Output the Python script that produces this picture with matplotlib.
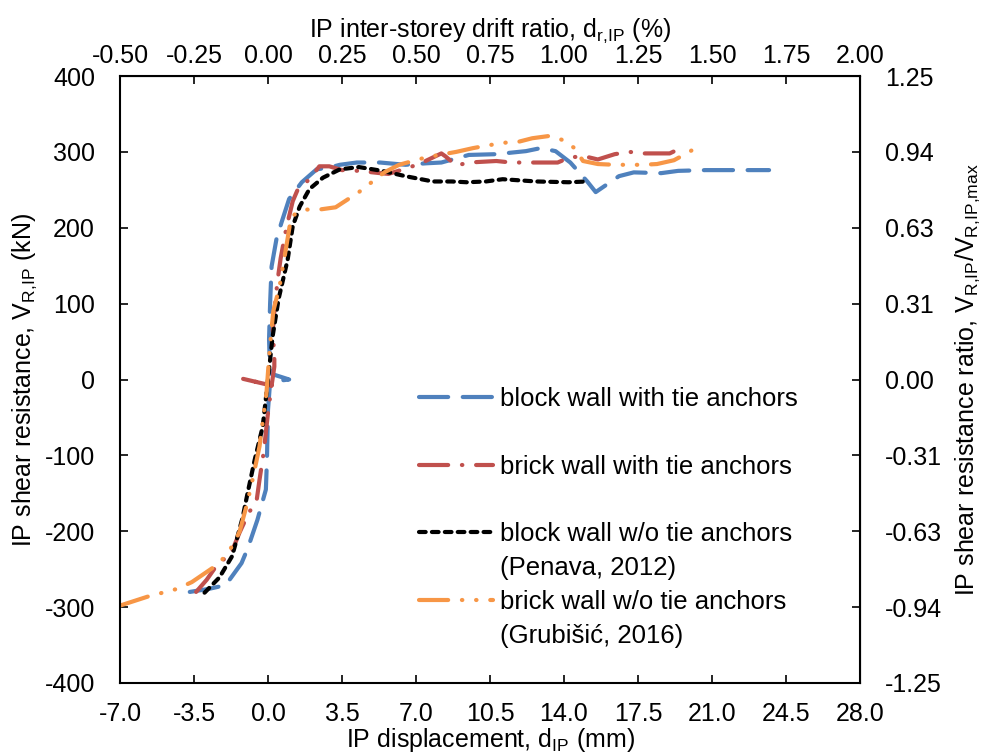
import matplotlib
matplotlib.use('Agg')
import matplotlib.pyplot as plt
from matplotlib.lines import Line2D
import numpy as np

plt.rcParams['font.family'] = ['Liberation Sans', 'DejaVu Sans']
plt.rcParams['mathtext.default'] = 'regular'
plt.rcParams['axes.unicode_minus'] = False
plt.rcParams['font.size'] = 18

# block wall with tie anchors (mm, kN)
blue_x = [-3.7, -2.8, -2.0, -1.25, -0.95, -0.5, -0.3, -0.1, -0.05, 0.0, 0.1, 1.0, 0.1,
          0.05, 0.1, 0.17, 0.4, 0.64, 1.0, 1.6, 2.3, 3.0, 3.4, 4.2, 5.3, 6.5, 7.5, 8.2,
          9.5, 10.8, 12.2, 12.9, 13.6, 14.3, 15.1, 15.5, 16.6, 17.3, 18.6, 19.4, 20.7,
          22.0, 23.7]
blue_y = [-280, -276, -271, -242, -222, -185, -165, -145, -106, -40, -3, 0, 8,
          53, 100, 149, 185, 207, 238, 260, 277, 280, 283, 286, 286, 283, 285, 286,
          296, 297, 301, 305, 301, 286, 261, 247, 268, 273, 272, 275, 276,
          276, 276]

# brick wall with tie anchors
red_x = [-3.4, -2.9, -2.3, -1.8, -1.35, -0.9, -0.55, -0.4, -0.2, 0.0, 0.17, -1.2, 0.17,
         0.3, 0.3, 0.2, 0.3, 0.45, 0.6, 0.87, 1.17, 1.4, 1.96, 2.43, 2.9, 3.5, 4.3,
         5.3, 5.7, 6.4, 7.15, 8.2, 8.4, 8.9, 9.5, 10.8, 11.5, 12.2, 13.7, 14.3, 15.0,
         15.6, 16.4, 17.1, 17.8, 19.0, 19.3]
red_y = [-280, -264, -240, -233, -202, -175, -162, -132, -95, -44, -8, 1, -8,
         17, 40, 55, 90, 130, 160, 200, 235, 250, 264, 281, 281, 276, 275,
         272, 271, 277, 284, 298, 294, 282, 286, 288, 286, 286, 286, 293, 294,
         290, 297, 300, 298, 298, 302]

# block wall w/o tie anchors (Penava, 2012)
black_x = [-3.0, -2.3, -1.7, -1.5, -1.2, -0.96, -0.63, -0.25, 0.0, 0.22, 0.5, 0.93,
           1.17, 1.5, 1.96, 2.6, 3.4, 4.3, 5.4, 6.5, 7.8, 8.7, 9.4, 10.3, 11.1, 12.7,
           14.2, 15.1]
black_y = [-281, -261, -233, -213, -182, -149, -106, -62, 0, 57, 106, 158,
           202, 228, 251, 266, 277, 280, 275, 268, 261, 261, 260, 261, 264, 261,
           260, 261]

# brick wall w/o tie anchors (Grubisic, 2016)
orange_x = [-7.0, -5.67, -4.3, -3.6, -2.6, -2.3, -1.9, -1.58, -1.34, -1.0, -0.73, -0.4,
            -0.07, 0.08, 0.25, 0.55, 0.87, 1.1, 1.69, 2.43, 3.2, 4.3, 4.9, 5.5, 6.2,
            7.5, 8.9, 9.7, 11.1, 11.8, 12.5, 13.3, 13.9, 14.5, 14.9, 15.6, 16.4, 17.7,
            18.4, 19.2, 19.8, 20.4]
orange_y = [-298, -286, -276, -267, -248, -242, -228, -215, -200, -165, -132, -88,
            -17, 40, 90, 123, 176, 215, 224, 224, 227, 247, 260, 273, 283,
            293, 300, 305, 312, 313, 318, 321, 316, 305, 288, 284, 283, 283,
            284, 289, 298, 308]

labels = ['block wall with tie anchors', 'brick wall with tie anchors',
          'block wall w/o tie anchors', '(Penava, 2012)',
          'brick wall w/o tie anchors', '(Grubišić, 2016)']

ratio_labels = ['-1.25', '-0.94', '-0.63', '-0.31', '0.00', '0.31', '0.63', '0.94', '1.25']

fig = plt.figure(figsize=(9.86, 7.55), dpi=100, facecolor='w')
ax = fig.add_axes([0.1217, 0.0954, 0.7505, 0.8039])

lw = 3.0
l1, = ax.plot(blue_x, blue_y, color='#4F81BD', lw=lw, dashes=(7, 3.5), dash_capstyle='round')
l2, = ax.plot(red_x, red_y, color='#C0504D', lw=lw, dashes=(7, 3.3, 0.1, 3.3), dash_capstyle='round')
l3, = ax.plot(black_x, black_y, color='black', lw=lw, dashes=(1.6, 1.5), dash_capstyle='round')
l4, = ax.plot(orange_x, orange_y, color='#F79646', lw=lw, dashes=(7, 3.3, 0.1, 3.3, 0.1, 3.3), dash_capstyle='round')

ax.set_xlim(-7, 28)
ax.set_ylim(-400, 400)
ax.set_xticks(np.arange(-7, 28.1, 3.5))
ax.set_xticklabels(['%.1f' % v for v in np.arange(-7, 28.1, 3.5)])
ax.set_yticks(np.arange(-400, 401, 100))
ax.tick_params(direction='in', length=6, width=1.2)
ax.tick_params(axis='x', pad=14)
ax.tick_params(axis='y', pad=18)
for s in ax.spines.values():
    s.set_linewidth(1.5)
ax.set_xlabel('IP displacement, d$_{IP}$ (mm)', labelpad=0)
ax.set_ylabel('IP shear resistance, V$_{R{,}IP}$ (kN)', labelpad=4)

top = ax.secondary_xaxis('top', functions=(lambda v: v / 14.0, lambda v: v * 14.0))
top.set_xticks(np.arange(-0.5, 2.01, 0.25))
top.set_xticklabels(['%.2f' % v for v in np.arange(-0.5, 2.01, 0.25)])
top.tick_params(direction='in', length=6, width=1.2, pad=6)
top.set_xlabel('IP inter-storey drift ratio, d$_{r{,}IP}$ (%)', labelpad=5)

right = ax.secondary_yaxis('right', functions=(lambda v: v / 320.0, lambda v: v * 320.0))
right.set_yticks(np.linspace(-1.25, 1.25, 9))
right.set_yticklabels(ratio_labels)
right.tick_params(direction='in', length=6, width=1.2, pad=18)
right.set_ylabel('IP shear resistance ratio, V$_{R{,}IP}$/V$_{R{,}IP{,}max}$', labelpad=8)

blank = Line2D([], [], linestyle='none')
names = [labels[0], ' ', labels[1], ' ', labels[2], labels[3], labels[4], labels[5]]
handles = [l1, blank, l2, blank, l3, blank, l4, blank]
ax.legend(handles, names, loc='upper left', bbox_to_anchor=(0.404, 0.487),
          frameon=False, handlelength=2.9, handletextpad=0.25, labelspacing=0.38,
          borderpad=0, borderaxespad=0, fontsize=18.5)

plt.savefig('out.png', dpi=100)
